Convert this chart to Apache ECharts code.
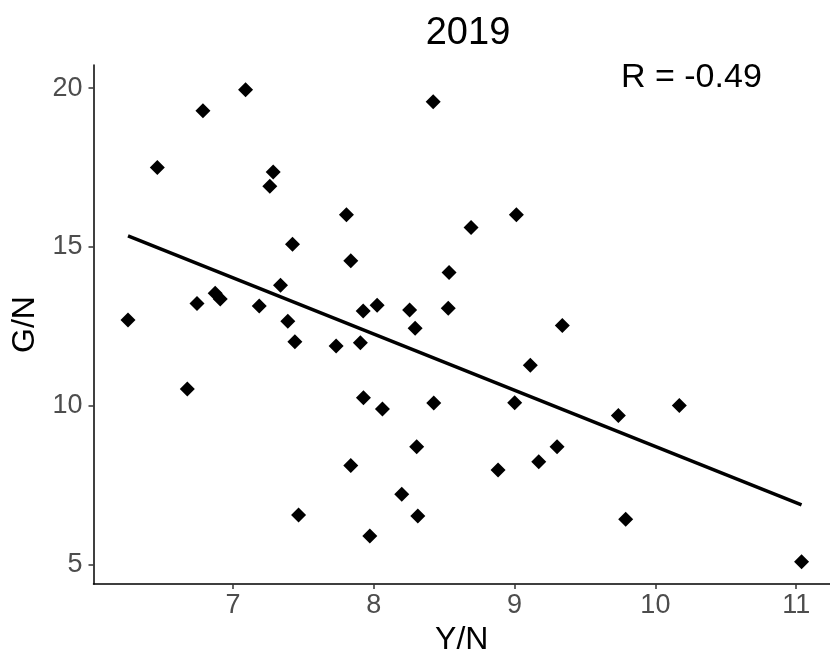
<!DOCTYPE html>
<html>
<head>
<meta charset="utf-8">
<script src="https://cdn.jsdelivr.net/npm/echarts@6/dist/echarts.min.js"></script>
<style>
html,body{margin:0;padding:0;background:#fff;}
#c{width:830px;height:662px;}
</style>
</head>
<body>
<div id="c"></div>
<script>
var titleText = '2019';
var rText = 'R = -0.49';
var xName = 'Y/N';
var yName = 'G/N';
var xTicks = [7, 8, 9, 10, 11];
var yTicks = [5, 10, 15, 20];
var xValues = [7.09, 6.787, 6.463, 7.286, 7.262, 7.806, 7.423, 7.837, 7.338, 6.874, 6.91, 6.745, 7.187, 7.925, 6.255, 7.39,
  8.422, 9.013, 8.691, 8.535, 8.024, 8.255, 8.529, 7.44, 7.733, 7.905, 6.676, 7.927, 7.837, 7.466, 7.972,
  8.294, 9.339, 9.112, 8.062, 8.426, 9.001, 9.737, 8.305, 9.302, 9.172, 8.883, 8.199, 8.313, 9.789, 10.17, 11.038];
var yValues = [19.95, 19.29, 17.50, 17.36, 16.91, 16.01, 15.08, 14.56, 13.79, 13.54, 13.36, 13.22, 13.14, 12.98, 12.70, 12.66,
  19.57, 16.01, 15.61, 14.19, 13.16, 13.01, 13.07, 12.01, 11.88, 11.98, 10.52, 10.25, 8.11, 6.55, 5.89,
  12.44, 12.52, 11.27, 9.89, 10.08, 10.09, 9.69, 8.70, 8.70, 8.23, 7.97, 7.21, 6.52, 6.42, 10.00, 5.08];
var fitX = [6.255, 11.038];
var fitY = [15.35, 6.87];

var pts = xValues.map(function (x, i) { return [x, yValues[i]]; });
var fit = fitX.map(function (x, i) { return [x, fitY[i]]; });
var FONT = "'Liberation Sans', Arial, sans-serif";

var chart = echarts.init(document.getElementById('c'), null, {renderer: 'canvas'});
chart.setOption({
  animation: false,
  backgroundColor: '#ffffff',
  title: {
    text: titleText,
    left: 463,
    textAlign: 'center',
    top: 10,
    textStyle: {fontFamily: FONT, fontSize: 38, fontWeight: 'normal', color: '#000'}
  },
  grid: {left: 93.5, right: 0, top: 65, bottom: 78, containLabel: false},
  xAxis: {
    type: 'value',
    min: 6.01, max: 11.24,
    name: xName,
    nameLocation: 'middle',
    nameGap: 38,
    nameTextStyle: {fontFamily: FONT, fontSize: 32, color: '#000'},
    splitLine: {show: false},
    axisLine: {onZero: false, lineStyle: {color: '#000', width: 1.5}},
    axisTick: {show: true, length: 5, lineStyle: {color: '#333', width: 1.5}, customValues: xTicks},
    axisLabel: {customValues: xTicks, fontFamily: FONT, fontSize: 27, color: '#4D4D4D', margin: 8}
  },
  yAxis: {
    type: 'value',
    min: 4.38, max: 20.73,
    name: yName,
    nameLocation: 'middle',
    nameGap: 52,
    nameRotate: 90,
    nameTextStyle: {fontFamily: FONT, fontSize: 32, color: '#000'},
    splitLine: {show: false},
    axisLine: {onZero: false, lineStyle: {color: '#000', width: 1.5}},
    axisTick: {show: true, length: 5, lineStyle: {color: '#333', width: 1.5}, customValues: yTicks},
    axisLabel: {customValues: yTicks, fontFamily: FONT, fontSize: 27, color: '#4D4D4D', margin: 11}
  },
  graphic: [{
    type: 'text',
    left: 621,
    top: 61,
    style: {text: rText, font: '34px ' + FONT, fill: '#000'}
  }],
  series: [{
    type: 'scatter',
    data: pts,
    symbol: 'diamond',
    symbolSize: [15, 15],
    itemStyle: {color: '#000', opacity: 1},
    z: 2
  }, {
    type: 'line',
    data: fit,
    showSymbol: false,
    symbol: 'none',
    lineStyle: {color: '#000', width: 3.5},
    z: 3
  }]
});
</script>
</body>
</html>
